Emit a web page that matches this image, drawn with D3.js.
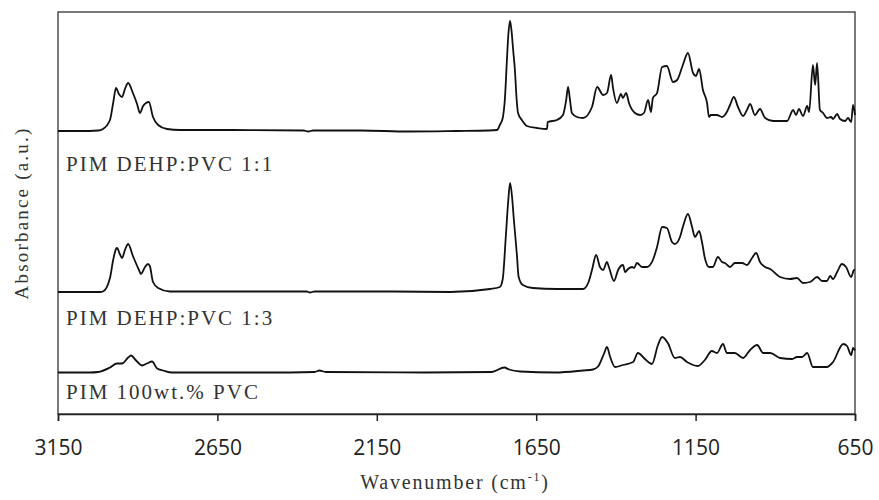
<!DOCTYPE html>
<html>
<head>
<meta charset="utf-8">
<script src="https://cdn.jsdelivr.net/npm/d3@7"></script>
<style>
  body { margin: 0; background: #fff; }
  .serif { font-family: "Liberation Serif", "DejaVu Serif", serif; fill: #333; }
  .tick text { font-family: "Open Sans", sans-serif; font-size: 21px; fill: #222; }
</style>
</head>
<body>
<svg id="chart" width="879" height="500"></svg>
<script>
// FTIR spectra, wavenumber (cm-1) vs absorbance above each trace's own baseline
var wnTicks = [3150, 2650, 2150, 1650, 1150, 650];
var seriesNames = ['PIM DEHP:PVC 1:1', 'PIM DEHP:PVC 1:3', 'PIM 100wt.% PVC'];
var offsets = [2.83, 1.22, 0.415];

var spec11 = [
    [3150, 0], [3081, 0], [3024, 0.005], [3009, 0.02], [2987, 0.11], [2977, 0.28], [2968, 0.43],
    [2959, 0.37], [2949, 0.34], [2940, 0.42], [2930, 0.48], [2915, 0.38], [2902, 0.27],
    [2893, 0.18], [2883, 0.25], [2874, 0.28], [2865, 0.29], [2852, 0.14], [2836, 0.06],
    [2808, 0.02], [2767, 0.01], [2600, 0.01], [2380, 0.005], [2365, -0.005], [2350, 0.005],
    [2200, 0.005], [2050, -0.005], [1900, 0], [1800, 0.005], [1773, 0.01], [1764, 0.06],
    [1755, 0.13], [1748, 0.33], [1742, 0.70], [1737, 0.98], [1732, 1.10], [1727, 0.99],
    [1722, 0.80], [1717, 0.62], [1711, 0.30], [1707, 0.18], [1695, 0.11], [1679, 0.05],
    [1647, 0.03], [1616, 0.02], [1614, 0.09], [1585, 0.11], [1566, 0.16], [1556, 0.31],
    [1550, 0.44], [1544, 0.31], [1538, 0.18], [1522, 0.14], [1503, 0.13], [1475, 0.24],
    [1459, 0.44], [1440, 0.36], [1428, 0.38], [1415, 0.56], [1409, 0.43], [1397, 0.28],
    [1384, 0.37], [1378, 0.33], [1368, 0.38], [1359, 0.28], [1340, 0.18], [1324, 0.16],
    [1312, 0.18], [1299, 0.31], [1290, 0.19], [1284, 0.33], [1271, 0.38], [1255, 0.64],
    [1240, 0.65], [1221, 0.49], [1208, 0.51], [1190, 0.66], [1174, 0.78], [1158, 0.58],
    [1149, 0.55], [1139, 0.62], [1127, 0.41], [1114, 0.28], [1108, 0.14], [1102, 0.16],
    [1083, 0.16], [1067, 0.14], [1052, 0.19], [1042, 0.26], [1030, 0.34], [1017, 0.24],
    [1001, 0.15], [989, 0.21], [979, 0.27], [964, 0.16], [948, 0.22], [932, 0.13],
    [907, 0.10], [863, 0.10], [844, 0.21], [835, 0.16], [826, 0.22], [813, 0.15],
    [800, 0.25], [794, 0.19], [782, 0.66], [775, 0.46], [769, 0.68], [760, 0.21],
    [750, 0.18], [738, 0.13], [725, 0.14], [719, 0.12], [706, 0.17], [697, 0.12],
    [681, 0.10], [672, 0.13], [662, 0.09], [656, 0.26], [650, 0.16]
];

var spec13 = [
    [3150, 0], [3081, 0], [3018, 0], [3009, 0.005], [2987, 0.14], [2977, 0.32], [2968, 0.43],
    [2965, 0.44], [2956, 0.38], [2949, 0.34], [2940, 0.42], [2930, 0.48], [2915, 0.36],
    [2896, 0.22], [2890, 0.18], [2877, 0.25], [2868, 0.28], [2862, 0.26], [2852, 0.10],
    [2836, 0.04], [2799, 0.005], [2600, 0.005], [2370, 0.005], [2360, -0.005], [2345, 0.005],
    [2100, 0.005], [1920, 0], [1795, 0.03], [1764, 0.05], [1755, 0.13], [1745, 0.57],
    [1738, 0.90], [1732, 1.09], [1726, 0.96], [1720, 0.72], [1711, 0.39], [1705, 0.15],
    [1692, 0.07], [1661, 0.04], [1585, 0.03], [1503, 0.03], [1487, 0.09], [1475, 0.22],
    [1462, 0.37], [1450, 0.25], [1440, 0.22], [1428, 0.30], [1422, 0.25], [1406, 0.11],
    [1393, 0.22], [1378, 0.27], [1371, 0.20], [1362, 0.23], [1349, 0.25], [1343, 0.24],
    [1334, 0.29], [1318, 0.25], [1302, 0.25], [1293, 0.27], [1284, 0.32], [1271, 0.45],
    [1255, 0.65], [1240, 0.64], [1224, 0.50], [1215, 0.48], [1199, 0.55], [1190, 0.65],
    [1174, 0.78], [1161, 0.65], [1152, 0.55], [1139, 0.61], [1130, 0.50], [1121, 0.34],
    [1108, 0.25], [1096, 0.25], [1080, 0.35], [1067, 0.30], [1058, 0.29], [1042, 0.25],
    [1027, 0.29], [1004, 0.29], [989, 0.27], [973, 0.34], [960, 0.39], [948, 0.30],
    [932, 0.25], [916, 0.23], [885, 0.15], [854, 0.13], [832, 0.14], [813, 0.09],
    [791, 0.10], [769, 0.15], [753, 0.11], [738, 0.11], [728, 0.16], [719, 0.13],
    [706, 0.20], [691, 0.28], [678, 0.25], [662, 0.15], [653, 0.22], [650, 0.22]
];

var spec100 = [
    [3150, 0], [3050, 0], [3024, 0.005], [2987, 0.05], [2965, 0.09], [2949, 0.09],
    [2930, 0.15], [2921, 0.17], [2905, 0.12], [2886, 0.07], [2871, 0.09], [2855, 0.11],
    [2839, 0.04], [2820, 0.02], [2792, 0], [2500, 0], [2345, 0.005], [2330, 0.02],
    [2310, 0.005], [2000, 0], [1790, 0.005], [1750, 0.05], [1735, 0.03], [1700, 0.01],
    [1590, 0], [1503, 0.02], [1472, 0.03], [1456, 0.06], [1437, 0.19], [1428, 0.255],
    [1418, 0.155], [1403, 0.055], [1378, 0.075], [1346, 0.105], [1331, 0.195], [1309, 0.135],
    [1287, 0.085], [1268, 0.275], [1255, 0.355], [1237, 0.295], [1215, 0.145], [1199, 0.155],
    [1177, 0.105], [1143, 0.065], [1121, 0.125], [1099, 0.215], [1083, 0.195], [1064, 0.285],
    [1052, 0.195], [1027, 0.195], [1001, 0.145], [979, 0.225], [957, 0.275], [938, 0.195],
    [916, 0.195], [885, 0.145], [847, 0.135], [832, 0.155], [816, 0.155], [800, 0.195],
    [782, 0.055], [738, 0.055], [719, 0.105], [687, 0.285], [675, 0.265], [662, 0.175],
    [656, 0.245], [650, 0.22]
];

var spectra = [spec11, spec13, spec100];
var labelDrop = [0.40, 0.33, 0.265];

var svg = d3.select('#chart');
var plotLeft = 58, plotRight = 855, plotTop = 12, plotBottom = 414;

var x = d3.scaleLinear().domain([3150, 650]).range([plotLeft, plotRight]);
var y = d3.scaleLinear().domain([0, 4.02]).range([plotBottom, plotTop]);

// plot frame
svg.append('rect')
    .attr('x', plotLeft).attr('y', plotTop)
    .attr('width', plotRight - plotLeft).attr('height', plotBottom - plotTop)
    .attr('fill', 'none').attr('stroke', '#333').attr('stroke-width', 1.3);

// bottom axis
var xAxis = d3.axisBottom(x).tickValues(wnTicks).tickSize(7).tickPadding(19)
    .tickFormat(d3.format('d'));
var gx = svg.append('g').attr('transform', 'translate(0,' + plotBottom + ')').call(xAxis);
gx.select('.domain').attr('stroke', '#222').attr('stroke-width', 1.5);
gx.selectAll('.tick line').attr('stroke', '#222').attr('stroke-width', 1.5);

var line = d3.line().curve(d3.curveMonotoneX);

spectra.forEach(function (s, i) {
    svg.append('path')
        .attr('d', line(s.map(function (d) { return [x(d[0]), y(offsets[i] + d[1])]; })))
        .attr('fill', 'none')
        .attr('stroke', '#111')
        .attr('stroke-width', 1.8)
        .attr('stroke-linejoin', 'round');

    svg.append('text')
        .attr('class', 'serif')
        .attr('x', x(3125))
        .attr('y', y(offsets[i] - labelDrop[i]))
        .attr('font-size', 21)
        .attr('letter-spacing', 2)
        .text(seriesNames[i]);
});

// axis titles
svg.append('text')
    .attr('class', 'serif')
    .attr('transform', 'translate(28,' + 213 + ') rotate(-90)')
    .attr('text-anchor', 'middle')
    .attr('font-size', 19)
    .attr('letter-spacing', 2.2)
    .text('Absorbance (a.u.)');

var xt = svg.append('text')
    .attr('class', 'serif')
    .attr('x', 455).attr('y', 489)
    .attr('text-anchor', 'middle')
    .attr('font-size', 20)
    .attr('letter-spacing', 1.8);
xt.append('tspan').text('Wavenumber (cm');
xt.append('tspan').attr('font-size', 12).attr('dy', -8).text('-1');
xt.append('tspan').attr('dy', 8).text(')');
</script>
</body>
</html>
